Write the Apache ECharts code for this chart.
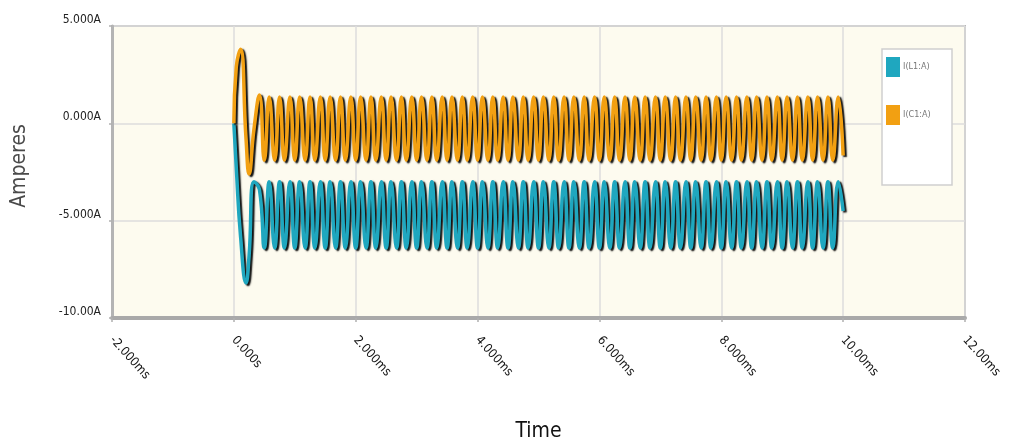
<!DOCTYPE html>
<html>
<head>
<meta charset="utf-8">
<script src="https://cdn.jsdelivr.net/npm/echarts@6/dist/echarts.min.js"></script>
<style>
html,body{margin:0;padding:0;background:#fff;}
#chart{width:1010px;height:447px;}
</style>
</head>
<body>
<div id="chart"></div>
<script>
// ---- data ----
const seriesNames = ['I(L1:A)', 'I(C1:A)'];
const xTickValues = [-2, 0, 2, 4, 6, 8, 10, 12];
const xTickLabels = ['-2.000ms', '0.000s', '2.000ms', '4.000ms', '6.000ms', '8.000ms', '10.00ms', '12.00ms'];
const yTickValues = [-10, -5, 0, 5];
const yTickLabels = ['-10.00A', '-5.000A', '0.000A', '5.000A'];

// time in ms (peaks / troughs of the waveforms)
const timeMs = [
  0, 0.04, 0.11, 0.20, 0.25, 0.33, 0.42, 0.50, 0.58, 0.67, 0.75, 0.83, 0.92,
  1.00, 1.08, 1.17, 1.25, 1.33, 1.42, 1.50, 1.58, 1.67, 1.75, 1.83, 1.92,
  2.00, 2.08, 2.17, 2.25, 2.33, 2.42, 2.50, 2.58, 2.67, 2.75, 2.83, 2.92,
  3.00, 3.08, 3.17, 3.25, 3.33, 3.42, 3.50, 3.58, 3.67, 3.75, 3.83, 3.92,
  4.00, 4.08, 4.17, 4.25, 4.33, 4.42, 4.50, 4.58, 4.67, 4.75, 4.83, 4.92,
  5.00, 5.08, 5.17, 5.25, 5.33, 5.42, 5.50, 5.58, 5.67, 5.75, 5.83, 5.92,
  6.00, 6.08, 6.17, 6.25, 6.33, 6.42, 6.50, 6.58, 6.67, 6.75, 6.83, 6.92,
  7.00, 7.08, 7.17, 7.25, 7.33, 7.42, 7.50, 7.58, 7.67, 7.75, 7.83, 7.92,
  8.00, 8.08, 8.17, 8.25, 8.33, 8.42, 8.50, 8.58, 8.67, 8.75, 8.83, 8.92,
  9.00, 9.08, 9.17, 9.25, 9.33, 9.42, 9.50, 9.58, 9.67, 9.75, 9.83, 9.92,
  10.00
];

// I(L1:A) in amperes
const iL1 = [
  0, -2.3, -5.8, -8.2, -6.8, -3.0, -3.4, -6.4, -3.0, -6.4, -3.0, -6.4, -3.0,
  -6.4, -3.0, -6.4, -3.0, -6.4, -3.0, -6.4, -3.0, -6.4, -3.0, -6.4, -3.0,
  -6.4, -3.0, -6.4, -3.0, -6.4, -3.0, -6.4, -3.0, -6.4, -3.0, -6.4, -3.0,
  -6.4, -3.0, -6.4, -3.0, -6.4, -3.0, -6.4, -3.0, -6.4, -3.0, -6.4, -3.0,
  -6.4, -3.0, -6.4, -3.0, -6.4, -3.0, -6.4, -3.0, -6.4, -3.0, -6.4, -3.0,
  -6.4, -3.0, -6.4, -3.0, -6.4, -3.0, -6.4, -3.0, -6.4, -3.0, -6.4, -3.0,
  -6.4, -3.0, -6.4, -3.0, -6.4, -3.0, -6.4, -3.0, -6.4, -3.0, -6.4, -3.0,
  -6.4, -3.0, -6.4, -3.0, -6.4, -3.0, -6.4, -3.0, -6.4, -3.0, -6.4, -3.0,
  -6.4, -3.0, -6.4, -3.0, -6.4, -3.0, -6.4, -3.0, -6.4, -3.0, -6.4, -3.0,
  -6.4, -3.0, -6.4, -3.0, -6.4, -3.0, -6.4, -3.0, -6.4, -3.0, -6.4, -3.0,
  -4.5
];

// I(C1:A) in amperes
const iC1 = [
  0, 2.9, 3.8, -0.8, -2.6, -0.3, 1.45, -1.9, 1.35, -1.9, 1.35, -1.9, 1.35,
  -1.9, 1.35, -1.9, 1.35, -1.9, 1.35, -1.9, 1.35, -1.9, 1.35, -1.9, 1.35,
  -1.9, 1.35, -1.9, 1.35, -1.9, 1.35, -1.9, 1.35, -1.9, 1.35, -1.9, 1.35,
  -1.9, 1.35, -1.9, 1.35, -1.9, 1.35, -1.9, 1.35, -1.9, 1.35, -1.9, 1.35,
  -1.9, 1.35, -1.9, 1.35, -1.9, 1.35, -1.9, 1.35, -1.9, 1.35, -1.9, 1.35,
  -1.9, 1.35, -1.9, 1.35, -1.9, 1.35, -1.9, 1.35, -1.9, 1.35, -1.9, 1.35,
  -1.9, 1.35, -1.9, 1.35, -1.9, 1.35, -1.9, 1.35, -1.9, 1.35, -1.9, 1.35,
  -1.9, 1.35, -1.9, 1.35, -1.9, 1.35, -1.9, 1.35, -1.9, 1.35, -1.9, 1.35,
  -1.9, 1.35, -1.9, 1.35, -1.9, 1.35, -1.9, 1.35, -1.9, 1.35, -1.9, 1.35,
  -1.9, 1.35, -1.9, 1.35, -1.9, 1.35, -1.9, 1.35, -1.9, 1.35, -1.9, 1.35,
  -1.65
];

// ---- chart ----
const FONT = "'DejaVu Sans Condensed', 'DejaVu Sans', sans-serif";
const chart = echarts.init(document.getElementById('chart'), null, {renderer: 'canvas'});

function mkSeries(name, values, color) {
  return {
    name: name,
    type: 'line',
    showSymbol: false,
    smooth: 0.5,
    animation: false,
    data: timeMs.map((t, i) => [t, values[i]]),
    itemStyle: {color: color},
    lineStyle: {
      color: color,
      width: 3.5,
      shadowColor: 'rgba(0,0,0,0.95)',
      shadowBlur: 1.5,
      shadowOffsetX: 2,
      shadowOffsetY: 1.5
    },
    z: 2
  };
}

chart.setOption({
  animation: false,
  backgroundColor: '#ffffff',
  grid: {
    left: 112, right: 45, top: 26, bottom: 129,
    outerBoundsMode: 'none',
    containLabel: false,
    show: true,
    backgroundColor: '#fdfbef',
    borderColor: '#b8b8b8',
    borderWidth: 2
  },
  graphic: [{
    type: 'rect',
    shape: {x: 882, y: 49, width: 70, height: 136},
    style: {fill: '#ffffff', stroke: '#cfcfcf', lineWidth: 1.5},
    z: 3
  }],
  legend: {
    orient: 'vertical',
    left: 886, top: 57,
    padding: 0,
    itemWidth: 14, itemHeight: 20, itemGap: 28,
    icon: 'rect',
    data: seriesNames,
    textStyle: {fontFamily: FONT, fontSize: 9, color: '#777', padding: [0, 0, 6, -2]},
    z: 4
  },
  xAxis: {
    type: 'value',
    min: -2, max: 12, interval: 2,
    name: 'Time',
    nameLocation: 'middle',
    nameGap: 103,
    nameTextStyle: {fontFamily: FONT, fontSize: 21, color: '#111'},
    axisLine: {show: true, onZero: false, lineStyle: {color: '#a9a9a9', width: 4}},
    axisTick: {show: true, length: 4, lineStyle: {color: '#b0b0b0', width: 1.5}},
    splitLine: {show: true, lineStyle: {color: '#dcdcdc', width: 1.5}},
    axisLabel: {
      rotate: -48,
      margin: 20,
      fontFamily: FONT, fontSize: 12.5, color: '#111',
      formatter: v => { const k = xTickValues.indexOf(v); return k >= 0 ? xTickLabels[k] : ''; }
    }
  },
  yAxis: {
    type: 'value',
    min: -10, max: 5, interval: 5,
    name: 'Amperes',
    nameLocation: 'middle',
    nameGap: 82,
    nameRotate: 90,
    nameTextStyle: {fontFamily: FONT, fontSize: 21, color: '#4a4a4a', padding: [0, 0, 0, 12]},
    axisLine: {show: true, onZero: false, lineStyle: {color: '#b4b4b4', width: 3}},
    axisTick: {show: true, length: 3, lineStyle: {color: '#b0b0b0', width: 1.5}},
    splitLine: {show: true, lineStyle: {color: '#dcdcdc', width: 1.5}},
    axisLabel: {
      margin: 11,
      verticalAlign: 'bottom',
      fontFamily: FONT, fontSize: 12, color: '#222',
      formatter: v => { const k = yTickValues.indexOf(v); return k >= 0 ? yTickLabels[k] : ''; }
    }
  },
  series: [
    mkSeries(seriesNames[0], iL1, '#1fa7bf'),
    mkSeries(seriesNames[1], iC1, '#f2a012')
  ]
});
</script>
</body>
</html>
